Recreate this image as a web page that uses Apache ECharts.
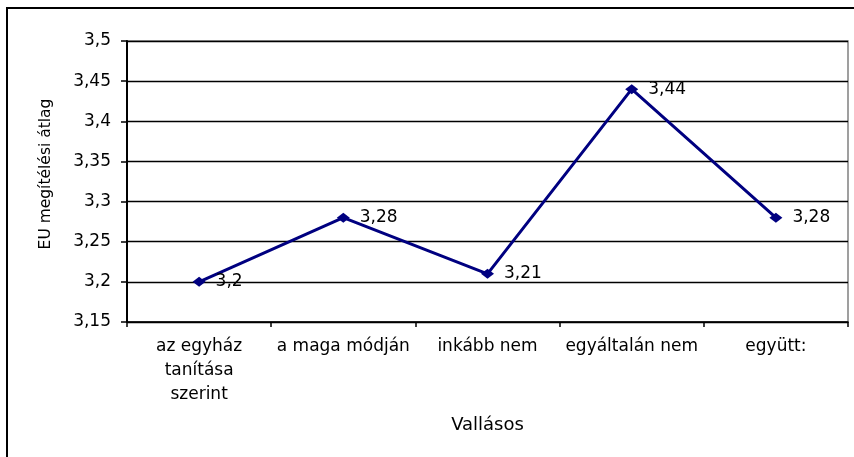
<!DOCTYPE html>
<html>
<head>
<meta charset="utf-8">
<script src="https://cdn.jsdelivr.net/npm/echarts@6/dist/echarts.min.js"></script>
<style>
html,body{margin:0;padding:0;background:#fff;}
#chart{width:854px;height:457px;}
</style>
</head>
<body>
<div id="chart"></div>
<script>
const categories = ['az egyház\ntanítása\nszerint', 'a maga módján', 'inkább nem', 'egyáltalán nem', 'együtt:'];
const values = [3.2, 3.28, 3.21, 3.44, 3.28];
const yAxisTitle = 'EU megítélési átlag';
const xAxisTitle = 'Vallásos';
const yMin = 3.15, yMax = 3.5, yStep = 0.05;

const fmt = v => String(Math.round(v * 100) / 100).replace('.', ',');
const FONT = 'DejaVu Sans';

const chart = echarts.init(document.getElementById('chart'));
chart.setOption({
  backgroundColor: '#fff',
  animation: false,
  grid: { left: 127, top: 41, right: 6, bottom: 135, show: true, borderColor: '#808080', borderWidth: 1.5, backgroundColor: 'transparent' },
  graphic: [{
    type: 'rect',
    shape: { x: 7, y: 8, width: 900, height: 500 },
    style: { fill: 'none', stroke: '#000', lineWidth: 2 },
    silent: true
  }],
  xAxis: {
    type: 'category',
    data: categories,
    boundaryGap: true,
    name: xAxisTitle,
    nameLocation: 'middle',
    nameGap: 94,
    nameTextStyle: { fontFamily: FONT, fontSize: 18, color: '#000' },
    axisLine: { lineStyle: { color: '#000', width: 1.5 } },
    axisTick: { show: true, length: 5, lineStyle: { color: '#000', width: 1.5 } },
    axisLabel: { fontFamily: FONT, fontSize: 17, color: '#000', lineHeight: 24, margin: 13, interval: 0 },
    splitLine: { show: false }
  },
  yAxis: {
    type: 'value',
    min: yMin, max: yMax, interval: yStep,
    name: yAxisTitle,
    nameLocation: 'middle',
    nameGap: 73,
    nameTextStyle: { fontFamily: FONT, fontSize: 15.5, color: '#000', padding: [0, 0, 0, 15] },
    axisLine: { show: true, lineStyle: { color: '#000', width: 2 } },
    axisTick: { show: true, inside: false, length: 6, lineStyle: { color: '#000', width: 1.5 } },
    axisLabel: { fontFamily: FONT, fontSize: 17, color: '#000', margin: 16, formatter: fmt },
    splitLine: { show: true, lineStyle: { color: '#000', width: 1.3 } }
  },
  series: [{
    type: 'line',
    data: values,
    symbol: 'diamond',
    symbolSize: [13, 10],
    itemStyle: { color: '#000080' },
    lineStyle: { color: '#000080', width: 3 },
    label: {
      show: true,
      position: 'right',
      distance: 10,
      formatter: p => fmt(p.value),
      fontFamily: FONT, fontSize: 17, color: '#000'
    }
  }]
});
</script>
</body>
</html>
